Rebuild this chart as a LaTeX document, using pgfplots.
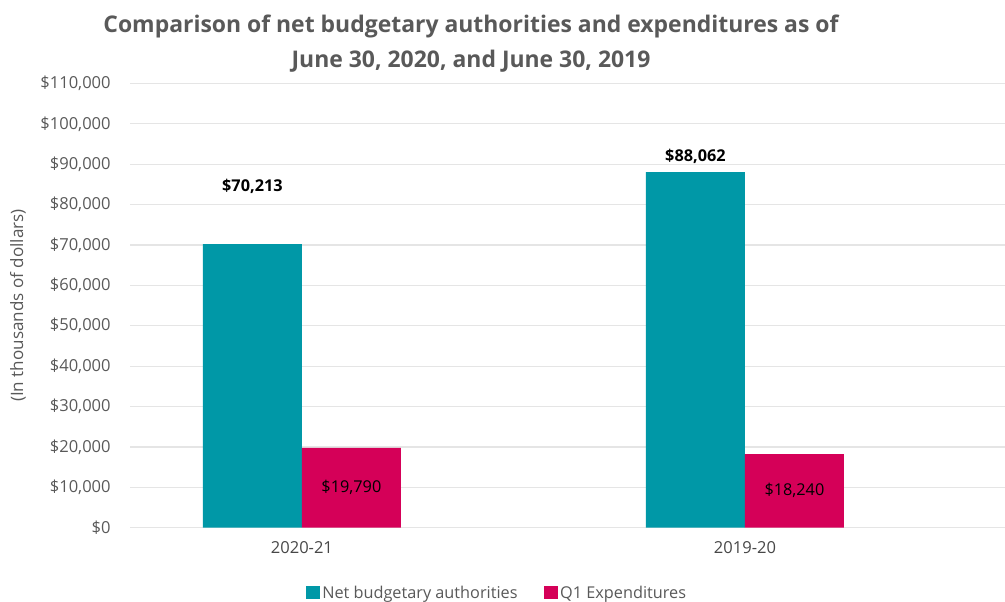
\documentclass[border=0pt]{standalone}
\usepackage{fontspec}
\setmainfont{Open Sans}
\usepackage{pgfplots}
\pgfplotsset{compat=1.18}

\definecolor{teal1}{RGB}{0,152,167}
\definecolor{mag1}{RGB}{213,0,88}
\definecolor{txtgray}{RGB}{89,89,89}
\definecolor{gridgray}{RGB}{229,229,229}

\begin{document}
\begin{tikzpicture}[x=0.75pt,y=0.75pt]
\useasboundingbox (-130,-74.3) rectangle (875,527.7);
\begin{axis}[
    at={(0,0)}, anchor=south west,
    scale only axis,
    width=656.25pt, height=333.2pt,
    xmin=-0.388, xmax=1.587,
    ymin=0, ymax=110000,
    scaled y ticks=false,
    ytick={0,10000,20000,30000,40000,50000,60000,70000,80000,90000,100000,110000},
    yticklabels={\$0,{\$10,000},{\$20,000},{\$30,000},{\$40,000},{\$50,000},{\$60,000},{\$70,000},{\$80,000},{\$90,000},{\$100,000},{\$110,000}},
    xtick={0,1},
    xticklabels={2020-21,2019-20},
    axis line style={draw=none},
    major tick length=0pt,
    ymajorgrids=true,
    grid style={gridgray, line width=0.9pt},
    yticklabel style={font=\fontsize{12.4}{14}\selectfont, text=txtgray, xshift=-11pt},
    xticklabel style={font=\fontsize{12.4}{14}\selectfont, text=black!72, yshift=-7pt},
    ylabel={(In thousands of dollars)},
    ylabel style={font=\fontsize{12.8}{15}\selectfont, text=txtgray, at={(axis description cs:-0.128,0.5)}, anchor=center},
    legend style={draw=none, font=\fontsize{12.2}{14}\selectfont, text=txtgray,
        at={(axis description cs:0.42,-0.147)}, anchor=center, legend columns=2,
        /tikz/every even column/.append style={column sep=18pt}},
    legend image code/.code={\fill[#1] (0pt,-4.5pt) rectangle (10pt,5.5pt);},
]
\addplot[ybar, bar width=0.2235, bar shift=-0.1117, fill=teal1, draw=none]
    coordinates {(0,70213) (1,88062)};
\addlegendentry{Net budgetary authorities}
\addplot[ybar, bar width=0.2235, bar shift=0.1117, fill=mag1, draw=none]
    coordinates {(0,19790) (1,18240)};
\addlegendentry{Q1 Expenditures}

\node[font=\bfseries\fontsize{12.2}{14}\selectfont] at (axis cs:-0.1117,84620) {\$70,213};
\node[font=\bfseries\fontsize{12.2}{14}\selectfont] at (axis cs:0.8883,92050) {\$88,062};
\node[font=\fontsize{12.2}{14}\selectfont] at (axis cs:0.1117,9895) {\$19,790};
\node[font=\fontsize{12.2}{14}\selectfont] at (axis cs:1.1117,9120) {\$18,240};
\end{axis}
\node[font=\bfseries\fontsize{17.2}{26}\selectfont, text=txtgray, align=center]
    at (341,484) {Comparison of net budgetary authorities and expenditures as of\\June 30, 2020, and June 30, 2019};
\end{tikzpicture}
\end{document}
